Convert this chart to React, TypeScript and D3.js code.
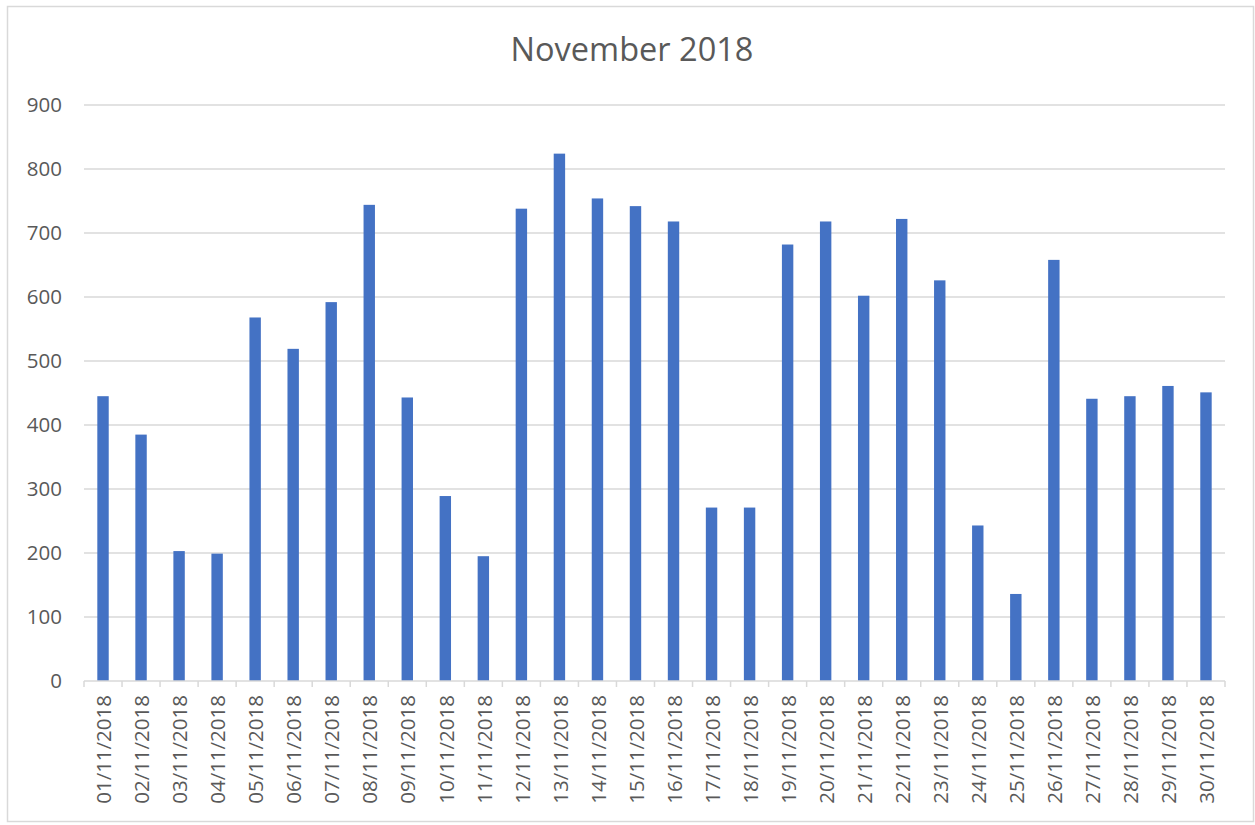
import { useEffect, useRef } from 'react';
import * as d3 from 'd3';

const dates = [
  '01/11/2018', '02/11/2018', '03/11/2018', '04/11/2018', '05/11/2018',
  '06/11/2018', '07/11/2018', '08/11/2018', '09/11/2018', '10/11/2018',
  '11/11/2018', '12/11/2018', '13/11/2018', '14/11/2018', '15/11/2018',
  '16/11/2018', '17/11/2018', '18/11/2018', '19/11/2018', '20/11/2018',
  '21/11/2018', '22/11/2018', '23/11/2018', '24/11/2018', '25/11/2018',
  '26/11/2018', '27/11/2018', '28/11/2018', '29/11/2018', '30/11/2018',
];

const values = [
  445, 385, 203, 199, 568, 519, 592, 744, 443, 289,
  195, 738, 824, 754, 742, 718, 271, 271, 682, 718,
  602, 722, 626, 243, 136, 658, 441, 445, 461, 451,
];

const yTicks = [0, 100, 200, 300, 400, 500, 600, 700, 800, 900];

const title = 'November 2018';

export default function App() {
  const svgRef = useRef<SVGSVGElement>(null);

  useEffect(() => {
    if (!svgRef.current) return;

    const svg = d3.select(svgRef.current);
    svg.selectAll('*').remove();

    const width = 1255;
    const height = 825;
    const left = 84;
    const right = 1225;
    const top = 105;
    const bottom = 681;
    const font = '"Open Sans", "Noto Sans", sans-serif';
    const gridColor = '#d9d9d9';
    const textColor = '#595959';

    svg.attr('width', width).attr('height', height);

    // chart frame
    svg
      .append('rect')
      .attr('x', 7.5)
      .attr('y', 6.5)
      .attr('width', 1246)
      .attr('height', 815)
      .attr('fill', '#fff')
      .attr('stroke', gridColor)
      .attr('stroke-width', 1.5);

    // bars centred in each category slot
    const x = d3
      .scaleBand<string>()
      .domain(dates)
      .range([left, right])
      .paddingInner(0.7)
      .paddingOuter(0.35);
    const y = d3.scaleLinear().domain([0, 900]).range([bottom, top]);

    // gridlines
    svg
      .append('g')
      .selectAll('line')
      .data(yTicks.filter((d) => d > 0))
      .join('line')
      .attr('x1', left)
      .attr('x2', right)
      .attr('y1', (d) => y(d))
      .attr('y2', (d) => y(d))
      .attr('stroke', gridColor)
      .attr('stroke-width', 1.3);

    // y labels
    svg
      .append('g')
      .selectAll('text')
      .data(yTicks)
      .join('text')
      .attr('x', 62)
      .attr('y', (d) => y(d))
      .attr('dy', '0.35em')
      .attr('text-anchor', 'end')
      .attr('font-family', font)
      .attr('font-size', '20.5px')
      .attr('fill', textColor)
      .text((d) => d);

    // bars
    svg
      .append('g')
      .selectAll('rect')
      .data(values)
      .join('rect')
      .attr('x', (_, i) => x(dates[i])!)
      .attr('y', (d) => y(d))
      .attr('width', x.bandwidth())
      .attr('height', (d) => y(0) - y(d))
      .attr('fill', '#4472c4');

    // x axis line + tick marks at category boundaries
    const step = x.step();
    const boundaries = d3.range(dates.length + 1).map((i) => left + i * step);
    svg
      .append('line')
      .attr('x1', left)
      .attr('x2', right)
      .attr('y1', bottom)
      .attr('y2', bottom)
      .attr('stroke', gridColor)
      .attr('stroke-width', 1.5);
    svg
      .append('g')
      .selectAll('line')
      .data(boundaries)
      .join('line')
      .attr('x1', (d) => d)
      .attr('x2', (d) => d)
      .attr('y1', bottom)
      .attr('y2', bottom + 6)
      .attr('stroke', gridColor)
      .attr('stroke-width', 1.5);

    // x labels, rotated
    svg
      .append('g')
      .selectAll('text')
      .data(dates)
      .join('text')
      .attr('transform', (d) => `translate(${x(d)! + x.bandwidth() / 2 + 1},695) rotate(-90)`)
      .attr('dy', '0.35em')
      .attr('text-anchor', 'end')
      .attr('font-family', font)
      .attr('font-size', '20.5px')
      .attr('fill', textColor)
      .text((d) => d);

    // title
    svg
      .append('text')
      .attr('x', 632)
      .attr('y', 50)
      .attr('dy', '0.35em')
      .attr('text-anchor', 'middle')
      .attr('font-family', font)
      .attr('font-size', '32.5px')
      .attr('fill', textColor)
      .text(title);
  }, []);

  return <svg ref={svgRef} style={{ position: 'absolute', left: 0, top: 0 }} />;
}
